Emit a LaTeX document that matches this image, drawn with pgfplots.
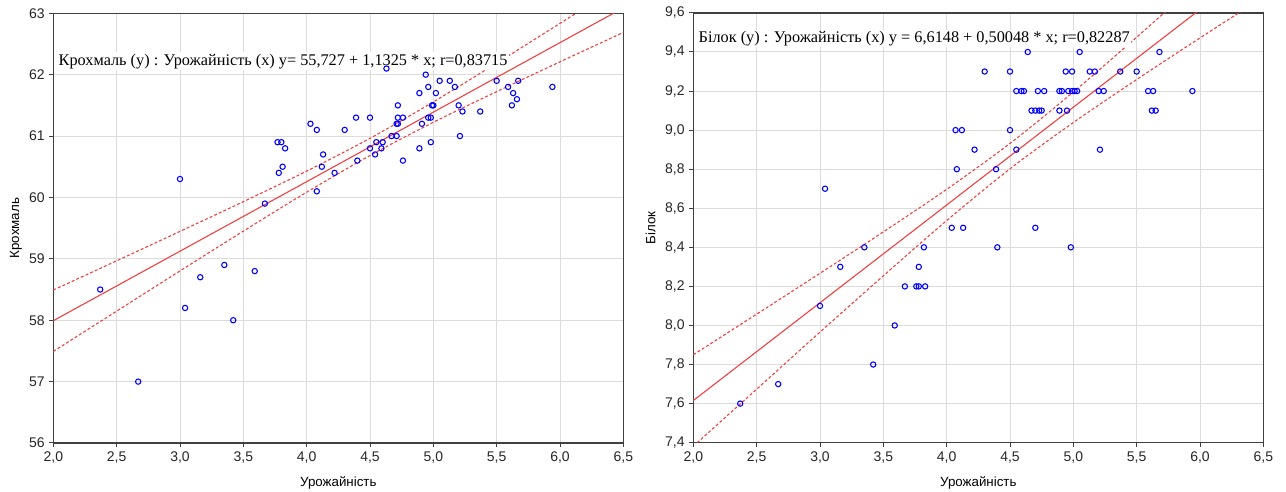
\documentclass[border=0pt]{standalone}
\usepackage{fontspec}
\setmainfont{Liberation Sans}
\newfontfamily\serifttl{Liberation Serif}
\usepackage{pgfplots}
\pgfplotsset{compat=1.18}
\definecolor{gridc}{RGB}{220,220,220}
\definecolor{regc}{RGB}{245,60,60}
\definecolor{ptc}{RGB}{0,0,255}

\pgfplotstableread{
x y
2.37 58.5
2.67 57.0
3.00 60.3
3.04 58.2
3.16 58.7
3.35 58.9
3.42 58.0
3.59 58.8
3.67 59.9
3.77 60.9
3.80 60.9
3.83 60.8
3.78 60.4
3.81 60.5
4.03 61.2
4.08 61.1
4.08 60.1
4.12 60.5
4.13 60.7
4.22 60.4
4.30 61.1
4.40 60.6
4.39 61.3
4.50 61.3
4.50 60.8
4.54 60.7
4.55 60.9
4.59 60.8
4.60 60.9
4.63 62.1
4.67 61.0
4.71 61.0
4.71 61.2
4.72 61.2
4.72 61.3
4.72 61.5
4.76 60.6
4.76 61.3
4.89 60.8
4.89 61.7
4.91 61.2
4.94 62.0
4.96 61.8
4.96 61.3
4.98 61.3
4.98 60.9
4.99 61.5
5.00 61.5
5.02 61.7
5.05 61.9
5.13 61.9
5.17 61.8
5.20 61.5
5.23 61.4
5.21 61.0
5.37 61.4
5.50 61.9
5.59 61.8
5.63 61.7
5.62 61.5
5.66 61.6
5.67 61.9
5.94 61.8
}\starch

\pgfplotstableread{
x y
2.37 7.6
2.67 7.7
3.00 8.1
3.04 8.7
3.16 8.3
3.35 8.4
3.42 7.8
3.59 8.0
3.67 8.2
3.76 8.2
3.78 8.2
3.78 8.3
3.83 8.2
3.82 8.4
4.04 8.5
4.07 9.0
4.08 8.8
4.12 9.0
4.13 8.5
4.22 8.9
4.30 9.3
4.39 8.8
4.40 8.4
4.50 9.0
4.50 9.3
4.55 8.9
4.55 9.2
4.59 9.2
4.61 9.2
4.64 9.4
4.67 9.1
4.70 9.1
4.73 9.1
4.75 9.1
4.70 8.5
4.72 9.2
4.77 9.2
4.89 9.1
4.95 9.1
4.89 9.2
4.91 9.2
4.94 9.3
4.99 9.3
4.96 9.2
4.99 9.2
5.01 9.2
5.03 9.2
4.98 8.4
5.05 9.4
5.13 9.3
5.17 9.3
5.21 8.9
5.20 9.2
5.24 9.2
5.37 9.3
5.50 9.3
5.59 9.2
5.63 9.2
5.62 9.1
5.65 9.1
5.68 9.4
5.94 9.2
}\protein

% confidence bands
\pgfplotstableread{
x up lo
2.0 58.492 57.492
2.5 58.968 58.148
3.0 59.447 58.803
3.5 59.931 59.451
4.0 60.429 60.085
4.5 60.963 60.683
5.0 61.556 61.224
5.5 62.188 61.724
6.0 62.835 62.209
6.5 63.488 62.688
}\starchband

\pgfplotstableread{
x up lo
2.0 7.850 7.382
2.5 8.058 7.674
3.0 8.267 7.966
3.5 8.479 8.254
4.0 8.697 8.537
4.5 8.932 8.802
5.0 9.195 9.039
5.5 9.476 9.259
6.0 9.764 9.472
6.5 10.055 9.681
}\proteinband

\pgfplotsset{
  scatstyle/.style={
    scale only axis, width=427.5pt, height=322.3pt,
    xmin=2, xmax=6.5, xtick={2,2.5,...,6.5},
    grid=major, grid style={gridc, line width=0.75pt},
    axis line style={black!75, line width=1.1pt},
    tick align=outside, tick pos=left,
    major tick length=3pt, tick style={black!75, line width=0.75pt},
    tick label style={font=\fontsize{10.5}{12}\selectfont, text=black!85},
    /pgf/number format/assume math mode=true,
    xticklabel style={/pgf/number format/.cd, fixed, fixed zerofill, precision=1, use comma},
    label style={font=\fontsize{9.5}{11}\selectfont},
    every axis x label/.style={at={(rel axis cs:0.5,0)}, anchor=center, yshift=-30pt},
    clip=true,
  },
}

\begin{document}
\begin{tikzpicture}
\useasboundingbox (0,0) rectangle (964.5pt,369pt);

\begin{axis}[scatstyle, at={(40pt,36.75pt)}, anchor=south west,
  ymin=56, ymax=63, ytick={56,...,63},
  xlabel={Урожайність}, ylabel={Крохмаль},
  every axis y label/.style={at={(rel axis cs:0,0.5)}, xshift=-28pt, rotate=90, anchor=center},
]
\addplot[regc, line width=0.8pt] coordinates {(2,57.992) (6.5,63.088)};
\addplot[regc, line width=0.8pt, dash pattern=on 2.2pt off 1.6pt, smooth] table[x=x,y=up] {\starchband};
\addplot[regc, line width=0.8pt, dash pattern=on 2.2pt off 1.6pt, smooth] table[x=x,y=lo] {\starchband};
\addplot[only marks, mark=o, mark size=2pt, ptc, mark options={line width=0.8pt}] table[x=x,y=y] {\starch};
\node[anchor=west, fill=white, inner sep=1pt, font=\serifttl\fontsize{12.2}{14}\selectfont]
  at (axis cs:2.03,62.22) {Крохмаль (y) : Урожайність (x) y= 55,727 + 1,1325 * x; r=0,83715};
\end{axis}

\begin{axis}[scatstyle, at={(520pt,37pt)}, anchor=south west,
  ymin=7.4, ymax=9.6, ytick={7.4,7.6,...,9.61},
  yticklabel style={/pgf/number format/.cd, fixed, fixed zerofill, precision=1, use comma},
  xlabel={Урожайність}, ylabel={Білок},
  every axis y label/.style={at={(rel axis cs:0,0.5)}, xshift=-32pt, rotate=90, anchor=center},
]
\addplot[regc, line width=0.8pt] coordinates {(2,7.6158) (6.5,9.8679)};
\addplot[regc, line width=0.8pt, dash pattern=on 2.2pt off 1.6pt, smooth] table[x=x,y=up] {\proteinband};
\addplot[regc, line width=0.8pt, dash pattern=on 2.2pt off 1.6pt, smooth] table[x=x,y=lo] {\proteinband};
\addplot[only marks, mark=o, mark size=2pt, ptc, mark options={line width=0.8pt}] table[x=x,y=y] {\protein};
\node[anchor=west, fill=white, inner sep=1pt, font=\serifttl\fontsize{12.2}{14}\selectfont]
  at (axis cs:2.03,9.47) {Білок (y) : Урожайність (x) y = 6,6148 + 0,50048 * x; r=0,82287};
\end{axis}
\end{tikzpicture}
\end{document}
